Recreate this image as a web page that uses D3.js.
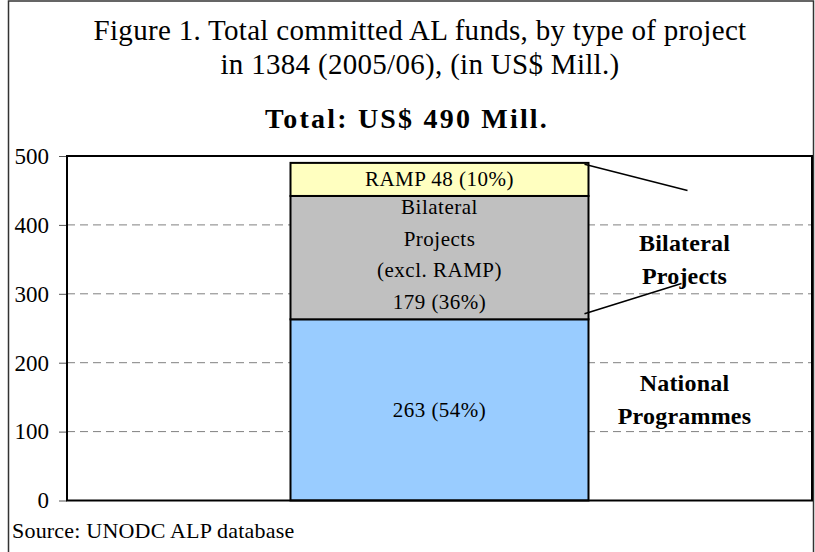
<!DOCTYPE html>
<html>
<head>
<meta charset="utf-8">
<script src="https://cdnjs.cloudflare.com/ajax/libs/d3/7.8.5/d3.min.js"></script>
<style>
  body { margin: 0; background: #fff; }
  svg text { font-family: "Liberation Serif", "Times New Roman", serif; }
</style>
</head>
<body>
<div id="the_chart"></div>
<script>
// data
var categories = ["1384 (2005/06)"];
var keys = ["national", "bilateral", "ramp"];
var values = [263, 179, 48];
var shares = ["54%", "36%", "10%"];
var yTicks = [0, 100, 200, 300, 400, 500];
var titleLines = ["Figure 1. Total committed AL funds, by type of project",
                  "in 1384 (2005/06), (in US$ Mill.)"];
var subtitle = "Total: US$ 490 Mill.";
var source = "Source: UNODC ALP database";

var colors = { national: "#99ccff", bilateral: "#c0c0c0", ramp: "#ffffc0" };

var w = 815, h = 552;
var pLeft = 67, pRight = 812, pTop = 156, pBottom = 500.5;

var svg = d3.select("#the_chart").append("svg")
    .attr("width", w)
    .attr("height", h);

// outer frame
svg.append("rect")
    .attr("x", 8.5).attr("y", 1)
    .attr("width", 805).attr("height", 560)
    .attr("fill", "none")
    .attr("stroke", "#333")
    .attr("stroke-width", 1.5);

// titles
svg.selectAll("text.title")
    .data(titleLines)
  .enter().append("text")
    .attr("class", "title")
    .attr("x", 420)
    .attr("y", function (d, i) { return 40 + i * 34; })
    .attr("text-anchor", "middle")
    .attr("font-size", 29)
    .attr("letter-spacing", 0.3)
    .text(function (d) { return d; });

svg.append("text")
    .attr("x", 407).attr("y", 128)
    .attr("text-anchor", "middle")
    .attr("font-size", 28)
    .attr("letter-spacing", 2.2)
    .attr("font-weight", "bold")
    .text(subtitle);

var yscale = d3.scaleLinear()
    .domain([0, 500])
    .range([pBottom, pTop]);

var xscale = d3.scaleBand()
    .domain(categories)
    .range([pLeft, pRight])
    .paddingInner(0.6)
    .paddingOuter(0.3);

// gridlines
svg.append("g")
    .selectAll("line")
    .data(yTicks.slice(1, -1))
  .enter().append("line")
    .attr("x1", pLeft).attr("x2", pRight)
    .attr("y1", function (d) { return yscale(d); })
    .attr("y2", function (d) { return yscale(d); })
    .attr("stroke", "#808080")
    .attr("stroke-dasharray", "8,5");

// y axis
var yaxis = d3.axisLeft(yscale)
    .tickValues(yTicks)
    .tickSize(8)
    .tickPadding(10);
var ya = svg.append("g")
    .attr("transform", "translate(" + pLeft + ",0)")
    .call(yaxis);
ya.select(".domain").remove();
ya.selectAll(".tick line").attr("stroke", "#555");
ya.selectAll(".tick text")
    .attr("font-family", "Liberation Serif, serif")
    .attr("font-size", 23)
    .attr("fill", "#000");

// stacked bar
var row = { cat: categories[0] };
keys.forEach(function (k, i) { row[k] = values[i]; });
var stacked = d3.stack().keys(keys)([row]);

var bw = xscale.bandwidth();
var bx = xscale(categories[0]);

svg.append("g")
    .selectAll("rect")
    .data(stacked)
  .enter().append("rect")
    .attr("x", bx)
    .attr("width", bw)
    .attr("y", function (d) { return yscale(d[0][1]); })
    .attr("height", function (d) { return yscale(d[0][0]) - yscale(d[0][1]); })
    .attr("fill", function (d) { return colors[d.key]; })
    .attr("stroke", "#000")
    .attr("stroke-width", 2);

// labels inside bar
var inner = {
  national: [values[0] + " (" + shares[0] + ")"],
  bilateral: ["Bilateral", "Projects", "(excl. RAMP)", values[1] + " (" + shares[1] + ")"],
  ramp: ["RAMP " + values[2] + " (" + shares[2] + ")"]
};
var lh = 31.7;
stacked.forEach(function (s) {
  var lines = inner[s.key];
  var cy = (yscale(s[0][0]) + yscale(s[0][1])) / 2;
  if (s.key == "bilateral") cy -= 3;
  svg.append("g").selectAll("text")
      .data(lines)
    .enter().append("text")
      .attr("x", bx + bw / 2)
      .attr("y", function (d, i) { return cy + (i - (lines.length - 1) / 2) * lh + 7; })
      .attr("text-anchor", "middle")
      .attr("font-size", 21)
      .attr("letter-spacing", 0.5)
      .text(function (d) { return d; });
});

// plot area border
svg.append("rect")
    .attr("x", pLeft).attr("y", pTop)
    .attr("width", pRight - pLeft).attr("height", pBottom - pTop)
    .attr("fill", "none")
    .attr("stroke", "#000")
    .attr("stroke-width", 2);

// side labels and leader lines
var lx = bx + bw + 96;
var sideLabels = [
  { lines: ["Bilateral", "Projects"], v: 350 },
  { lines: ["National", "Programmes"], v: 146 }
];
sideLabels.forEach(function (s) {
  svg.append("g").selectAll("text")
      .data(s.lines)
    .enter().append("text")
      .attr("x", lx)
      .attr("y", function (d, i) { return yscale(s.v) + (i - 0.5) * 33 + 8; })
      .attr("text-anchor", "middle")
      .attr("font-size", 24)
      .attr("letter-spacing", 0.2)
      .attr("font-weight", "bold")
      .text(function (d) { return d; });
});

var leaders = [
  { v0: 488, v1: 450, dx: 99 },
  { v0: 271, v1: 315, dx: 93 }
];
svg.append("g").selectAll("line")
    .data(leaders)
  .enter().append("line")
    .attr("x1", bx + bw - 4)
    .attr("y1", function (d) { return yscale(d.v0); })
    .attr("x2", function (d) { return bx + bw + d.dx; })
    .attr("y2", function (d) { return yscale(d.v1); })
    .attr("stroke", "#000")
    .attr("stroke-width", 1.5);

svg.append("text")
    .attr("x", 12).attr("y", 538)
    .attr("font-size", 22)
    .attr("letter-spacing", 0.2)
    .text(source);
</script>
</body>
</html>
